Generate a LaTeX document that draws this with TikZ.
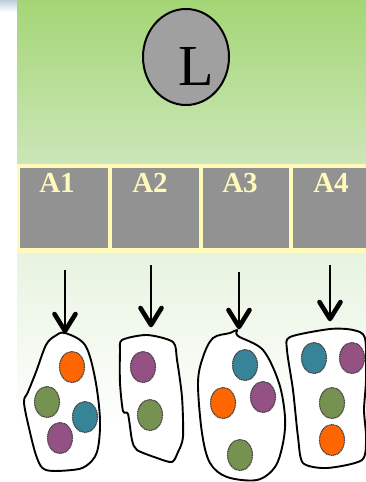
\documentclass[tikz,border=0pt]{standalone}
\usepackage{fontspec}
\setmainfont{Liberation Serif}
\usetikzlibrary{shapes.geometric,calc}
\definecolor{topgreen}{RGB}{164,214,118}
\definecolor{midgreen}{RGB}{204,230,184}
\definecolor{palegreen}{RGB}{231,243,224}
\definecolor{cellgrey}{RGB}{146,146,146}
\definecolor{cream}{RGB}{255,249,186}
\definecolor{circgrey}{RGB}{160,160,160}
\definecolor{dotorange}{RGB}{255,102,0}
\definecolor{dotgreen}{RGB}{118,146,80}
\definecolor{dotteal}{RGB}{55,132,152}
\definecolor{dotpurple}{RGB}{148,82,132}
\definecolor{cornerblue}{RGB}{190,205,220}
\tikzset{
  cell/.style={draw=cream, line width=1.6pt, fill=cellgrey},
  celltext/.style={text=cream, font=\bfseries\fontsize{29}{29}\selectfont, anchor=north},
  dot/.style={draw=black!75, line width=1.1pt, dash pattern=on 1.2pt off 0.6pt},
  blob/.style={draw=black, line width=1.9pt, fill=white, line join=round},
  pointer/.style={line width=1.5pt},
  barb/.style={line width=4.6pt, line cap=round, line join=round},
}
\begin{document}
\begin{tikzpicture}[x=1pt,y=-1pt]
\useasboundingbox (0,0) rectangle (366,482);
\fill[white] (0,0) rectangle (366,482);
\shade[top color=cornerblue, bottom color=white] (0,0) rectangle (17,12);
% top green band
\shade[top color=topgreen, bottom color=midgreen] (17,0) rectangle (366,164);
% lower pale region
\shade[top color=palegreen, bottom color=white] (17,252) rectangle (366,432);
% table
\fill[cream] (17,164) rectangle (366,253);
\node[cell, minimum width=90pt, minimum height=82pt, anchor=north west, inner sep=0pt] (c1) at (18,166) {};
\node[cell, minimum width=89pt, minimum height=82pt, anchor=north west, inner sep=0pt] (c2) at (110,166) {};
\node[cell, minimum width=88pt, minimum height=82pt, anchor=north west, inner sep=0pt] (c3) at (201,166) {};
\node[cell, minimum width=76pt, minimum height=82pt, anchor=north west, inner sep=0pt] (c4) at (291,166) {};
\node[celltext] (t1) at (57,170) {A1};
\node[celltext] (t2) at (150,170) {A2};
\node[celltext] (t3) at (240,170) {A3};
\node[celltext] (t4) at (331,170) {A4};
% L circle
\node[draw=black, line width=2pt, fill=circgrey, ellipse, minimum width=86pt, minimum height=96pt, inner sep=0pt] (L) at (186,57) {};
\node[font=\fontsize{58}{58}\selectfont, inner sep=0pt] (Ltext) at (196,67) {L};
% blobs
\draw[blob] plot[smooth cycle, tension=0.55] coordinates {(65,333) (85,345) (95,378) (100,420) (97,452) (86,466) (72,470) (46,470) (37,458) (29,428) (24,402) (28,392) (36,372) (46,345) (55,336)};
\draw[blob] plot[smooth cycle, tension=0.45] coordinates {(122,340) (147,335) (173,342) (177,360) (182,397) (183,437) (178,452) (172,462) (157,458) (137,450) (132,440) (128,414) (123,411) (120,383) (120,352)};
\draw[blob] plot[smooth cycle, tension=0.55] coordinates {(237,330) (238,336) (263,350) (279,383) (285,417) (283,443) (275,467) (257,480) (227,477) (210,463) (202,433) (198,383) (203,357) (213,338) (230,333)};
\draw[blob] plot[smooth cycle, tension=0.45] coordinates {(290,337) (330,329) (353,330) (365,338) (366,380) (364,410) (366,437) (362,460) (327,468) (303,463) (298,437) (293,390) (287,350)};
\coordinate (b1) at (65,331);
\coordinate (b2) at (151,325);
\coordinate (b3) at (239,327);
\coordinate (b4) at (330,319);
\coordinate (s1) at (65,270);
\coordinate (s2) at (151,265);
\coordinate (s3) at (239,272);
\coordinate (s4) at (330,265);
\foreach \i in {1,2,3,4}{
  \draw[pointer] (s\i) -- (b\i);
  \draw[barb] ($(b\i)+(-10.5,-17)$) -- (b\i) -- ($(b\i)+(10.5,-17)$);
}
% dots
\def\rx{12.5}\def\ry{15.5}
\draw[dot, fill=dotorange] (72,367) ellipse [x radius=\rx, y radius=\ry];
\draw[dot, fill=dotgreen] (47,402) ellipse [x radius=\rx, y radius=\ry];
\draw[dot, fill=dotteal] (85,417) ellipse [x radius=\rx, y radius=\ry];
\draw[dot, fill=dotpurple] (60,438) ellipse [x radius=\rx, y radius=\ry];
\draw[dot, fill=dotpurple] (143,367) ellipse [x radius=\rx, y radius=\ry];
\draw[dot, fill=dotgreen] (150,415) ellipse [x radius=\rx, y radius=\ry];
\draw[dot, fill=dotteal] (245,365) ellipse [x radius=\rx, y radius=\ry];
\draw[dot, fill=dotorange] (223,403) ellipse [x radius=\rx, y radius=\ry];
\draw[dot, fill=dotpurple] (263,397) ellipse [x radius=\rx, y radius=\ry];
\draw[dot, fill=dotgreen] (240,455) ellipse [x radius=\rx, y radius=\ry];
\draw[dot, fill=dotteal] (314,358) ellipse [x radius=\rx, y radius=\ry];
\draw[dot, fill=dotpurple] (352,358) ellipse [x radius=\rx, y radius=\ry];
\draw[dot, fill=dotgreen] (332,403) ellipse [x radius=\rx, y radius=\ry];
\draw[dot, fill=dotorange] (332,440) ellipse [x radius=\rx, y radius=\ry];
\end{tikzpicture}
\end{document}
